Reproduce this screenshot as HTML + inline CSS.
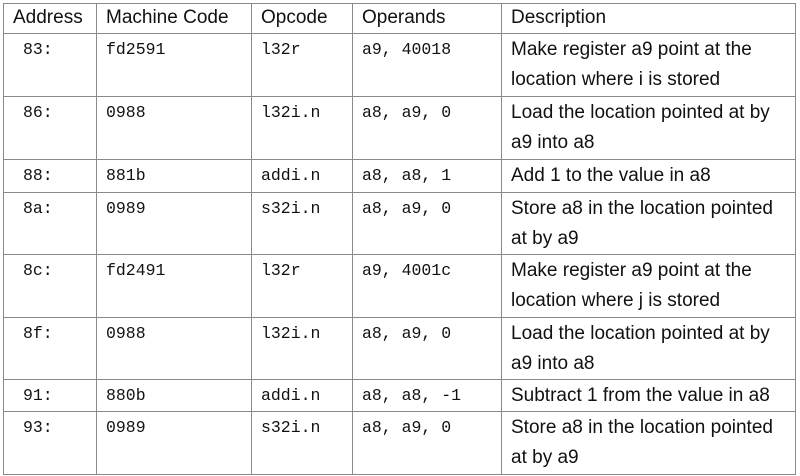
<!DOCTYPE html>
<html><head><style>
body{margin:0;background:#fff;width:800px;height:476px;overflow:hidden}
table{position:absolute;left:3px;top:3px;border-collapse:collapse;table-layout:fixed}
td{border:1.5px solid #8a8a8a;vertical-align:top;padding:0 0 0 9px;font-family:"Liberation Sans",sans-serif;font-size:19px;line-height:30px;color:#111;overflow:hidden}
td.d{padding-right:6px;padding-top:1px}
td.m{font-family:"Liberation Mono",monospace;font-size:16.5px;padding-top:1px;line-height:30px}
td.a{padding-left:19px}
tr.h td{line-height:28px;font-size:19px;padding-top:0}
</style></head><body>
<table>
<colgroup><col style="width:93px"><col style="width:155px"><col style="width:101px"><col style="width:149px"><col style="width:294px"></colgroup>
<tr class="h" style="height:30px"><td>Address</td><td>Machine Code</td><td>Opcode</td><td>Operands</td><td>Description</td></tr>
<tr style="height:63px"><td class="m a">83:</td><td class="m">fd2591</td><td class="m">l32r</td><td class="m">a9, 40018</td><td class="d">Make register a9 point at the location where i is stored</td></tr>
<tr style="height:63px"><td class="m a">86:</td><td class="m">0988</td><td class="m">l32i.n</td><td class="m">a8, a9, 0</td><td class="d">Load the location pointed at by a9 into a8</td></tr>
<tr style="height:33px"><td class="m a">88:</td><td class="m">881b</td><td class="m">addi.n</td><td class="m">a8, a8, 1</td><td class="d">Add 1 to the value in a8</td></tr>
<tr style="height:62px"><td class="m a">8a:</td><td class="m">0989</td><td class="m">s32i.n</td><td class="m">a8, a9, 0</td><td class="d">Store a8 in the location pointed at by a9</td></tr>
<tr style="height:63px"><td class="m a">8c:</td><td class="m">fd2491</td><td class="m">l32r</td><td class="m">a9, 4001c</td><td class="d">Make register a9 point at the location where j is stored</td></tr>
<tr style="height:61px"><td class="m a">8f:</td><td class="m">0988</td><td class="m">l32i.n</td><td class="m">a8, a9, 0</td><td class="d">Load the location pointed at by a9 into a8</td></tr>
<tr style="height:32px"><td class="m a">91:</td><td class="m">880b</td><td class="m">addi.n</td><td class="m">a8, a8, -1</td><td class="d">Subtract 1 from the value in a8</td></tr>
<tr style="height:63px"><td class="m a">93:</td><td class="m">0989</td><td class="m">s32i.n</td><td class="m">a8, a9, 0</td><td class="d">Store a8 in the location pointed at by a9</td></tr>
</table>
</body></html>
